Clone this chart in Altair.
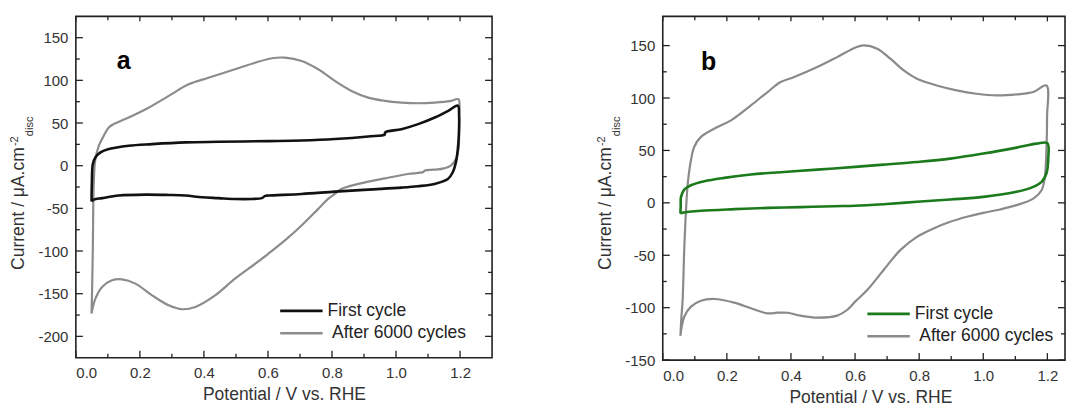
import altair as alt
import pandas as pd

# ---------------- data ----------------
# Panel a
A_FIRST_V = [0.049, 0.050, 0.053, 0.061, 0.077, 0.103, 0.165, 0.238, 0.342, 0.445, 0.601, 0.705, 0.809,
             0.913, 0.965, 0.966, 1.017, 1.069, 1.121, 1.163, 1.193, 1.197, 1.196, 1.193, 1.187, 1.177,
             1.162, 1.120, 1.068, 1.017, 0.913, 0.809, 0.705, 0.601, 0.591, 0.581, 0.549, 0.497, 0.445,
             0.394, 0.342, 0.290, 0.217, 0.134, 0.082, 0.056, 0.049]
A_FIRST_I = [-42, -20, 2, 9.7, 15.6, 19.5, 23.4, 25.3, 27.3, 28, 28.8, 29.5, 31.2,
             34.3, 36.6, 39, 42.8, 48.7, 56.5, 64.3, 70.5, 58, 35, 19.5, 3.9, -7.8,
             -15.6, -21.4, -24.1, -25.7, -28, -30.4, -33.1, -35, -35.4, -38, -39, -39, -38,
             -37, -35, -34.3, -33.9, -35, -38, -39.7, -42]

A_AFTER_V = [0.049, 0.051, 0.053, 0.056, 0.061, 0.072, 0.087, 0.103, 0.118, 0.165, 0.227, 0.290, 0.352,
             0.414, 0.497, 0.560, 0.617, 0.653, 0.705, 0.757, 0.809, 0.861, 0.913, 0.965, 1.017, 1.069,
             1.121, 1.172, 1.195, 1.197, 1.195, 1.187, 1.171, 1.150, 1.120, 1.090, 1.085, 1.037, 0.965,
             0.913, 0.861, 0.829, 0.809, 0.788, 0.757, 0.705, 0.653, 0.601, 0.560, 0.497, 0.435, 0.373,
             0.332, 0.290, 0.238, 0.186, 0.144, 0.113, 0.082, 0.061, 0.049]
A_AFTER_I = [-173.3, -140, -97, -19.5, 7.8, 23.4, 35, 44.8, 48.7, 56.5, 68, 81.8, 95.4,
             103, 113, 120.7, 126.2, 126.6, 122.7, 113, 99.3, 87.6, 79.8, 76, 74, 73.2,
             74, 76, 77.9, 58.4, 19.5, 7.8, 0, -3.1, -4.7, -5.5, -7.5, -9.7, -14.8,
             -18.7, -23.4, -27.3, -33.1, -38.9, -50.6, -70.1, -87.6, -103.2, -114.9, -132.4, -151.9, -165.5,
             -168.2, -163.6, -151.9, -138.2, -133.2, -134.3, -142.1, -155.8, -173.3]

# Panel b
B_FIRST_V = [0.055, 0.056, 0.057, 0.067, 0.088, 0.130, 0.192, 0.275, 0.378, 0.482, 0.600, 0.689, 0.793,
             0.897, 1.000, 1.104, 1.166, 1.200, 1.203, 1.197, 1.182, 1.156, 1.104, 1.000, 0.897, 0.793,
             0.689, 0.600, 0.534, 0.430, 0.327, 0.223, 0.119, 0.062, 0.055]
B_FIRST_I = [-10.2, -3, 5.7, 12.7, 16.8, 20.6, 23.8, 27, 29.5, 31.7, 34.3, 36.5, 39,
             42.2, 47, 52.7, 56.5, 57, 43.8, 28, 20, 15.2, 10.5, 5.7, 3.2, 1,
             -1.3, -2.8, -3.2, -4.1, -4.8, -6, -7.6, -9.5, -10.2]

B_AFTER_V = [0.055, 0.058, 0.062, 0.067, 0.072, 0.078, 0.088, 0.098, 0.119, 0.171, 0.213, 0.275, 0.327,
             0.368, 0.410, 0.482, 0.544, 0.600, 0.627, 0.669, 0.710, 0.752, 0.793, 0.855, 0.917, 0.979,
             1.042, 1.104, 1.156, 1.197, 1.199, 1.197, 1.192, 1.182, 1.156, 1.104, 1.052, 1.000, 0.949,
             0.897, 0.845, 0.793, 0.741, 0.689, 0.638, 0.601, 0.575, 0.544, 0.482, 0.430, 0.389,
             0.358, 0.327, 0.275, 0.223, 0.161, 0.119, 0.088, 0.067, 0.055]
B_AFTER_I = [-127, -110, -92.7, -45, -10, 18.4, 40.6, 53.3, 62.9, 72.4, 78.7, 93, 105.7,
             115.2, 120, 129.5, 139, 148, 150.2, 147, 137.5, 126.3, 118.4, 112, 107.3, 104.1,
             102.5, 103.5, 105.7, 112, 81.9, 50.2, 24.8, 12.1, 4.1, -2.2, -6.3, -9.5, -13.3,
             -18.1, -24.4, -32.4, -45.1, -64.1, -83.2, -94, -102.2, -107.6, -109.5, -107.6, -104.8,
             -104.8, -105.4, -100.6, -95.2, -91.7, -93.3, -99, -108.6, -127]

SERIES = ["First cycle", "After 6000 cycles"]

X_MAJOR = [0.0, 0.2, 0.4, 0.6, 0.8, 1.0, 1.2]
X_MINOR = [0.1, 0.3, 0.5, 0.7, 0.9, 1.1]
A_Y_MAJOR = [-200, -150, -100, -50, 0, 50, 100, 150]
A_Y_MINOR = [-175, -125, -75, -25, 25, 75, 125]
B_Y_MAJOR = [-150, -100, -50, 0, 50, 100, 150]
B_Y_MINOR = [-125, -75, -25, 25, 75, 125]

# ---------------- style ----------------
FONT = "Liberation Sans"
AXC = "#222222"
TXT = "#333333"
TITLE_FS = 17.5
LABEL_FS = 15


def curve(v, i):
    return pd.DataFrame({"V": v, "I": i, "k": list(range(len(v)))})


def one_row():
    return pd.DataFrame({"d": [0]})


def panel(first_v, first_i, after_v, after_i, first_color, after_color,
          xdom, ydom, w, h, y_major, y_minor, letter, letter_xy,
          leg_x, leg_y, ytitle_y, xtitle_x):
    xs = alt.Scale(domain=xdom, nice=False, zero=False)
    ys = alt.Scale(domain=ydom, nice=False, zero=False)

    after = alt.Chart(curve(after_v, after_i)).mark_line(
        color=after_color, strokeWidth=2.2, clip=True, strokeJoin="round", interpolate="catmull-rom"
    ).encode(
        x=alt.X("V:Q", scale=xs, axis=alt.Axis(
            values=X_MAJOR, format=".1f", ticks=False, domain=False, grid=False,
            labelFont=FONT, labelFontSize=LABEL_FS, labelColor=TXT, labelPadding=8,
            title="Potential / V vs. RHE", titleFont=FONT, titleFontSize=TITLE_FS,
            titleFontWeight="normal", titleColor=TXT, titlePadding=5, titleX=xtitle_x)),
        y=alt.Y("I:Q", scale=ys, axis=alt.Axis(
            values=y_major, ticks=False, domain=False, grid=False,
            labelExpr="'' + datum.value",
            labelFont=FONT, labelFontSize=LABEL_FS, labelColor=TXT, labelPadding=8,
            title="")),
        order="k:Q",
    )
    first = alt.Chart(curve(first_v, first_i)).mark_line(
        color=first_color, strokeWidth=2.6, clip=True, strokeJoin="round", interpolate="catmull-rom"
    ).encode(
        x=alt.X("V:Q", scale=xs),
        y=alt.Y("I:Q", scale=ys),
        order="k:Q",
    )

    layers = [after, first]

    # inward ticks on all four sides (same field names as the curves so axes merge)
    def yt(vals, length, right):
        x0 = w - length if right else 0
        return alt.Chart(pd.DataFrame({"I": vals})).mark_rule(color=AXC, strokeWidth=1.3).encode(
            y=alt.Y("I:Q", scale=ys), x=alt.value(x0), x2=alt.value(x0 + length))

    def xt(vals, length, top):
        y0 = 0 if top else h - length
        return alt.Chart(pd.DataFrame({"V": vals})).mark_rule(color=AXC, strokeWidth=1.3).encode(
            x=alt.X("V:Q", scale=xs), y=alt.value(y0), y2=alt.value(y0 + length))

    layers += [yt(y_major, 7, False), yt(y_minor, 4, False), yt(y_major, 7, True), yt(y_minor, 4, True),
               xt(X_MAJOR, 7, False), xt(X_MINOR, 4, False), xt(X_MAJOR, 5, True), xt(X_MINOR, 4, True)]

    def txt(s, x, y, fs, angle=0, align="left", baseline="middle", weight="normal", color=TXT):
        return alt.Chart(one_row()).mark_text(
            text=s, font=FONT, fontSize=fs, angle=angle, align=align, baseline=baseline,
            fontWeight=weight, color=color
        ).encode(x=alt.value(x), y=alt.value(y))

    # y-axis title with superscript / subscript
    layers += [
        txt("Current / \u03bcA.cm", -57, ytitle_y, TITLE_FS, angle=270),
        txt("-2", -60.5, ytitle_y - 124, 11, angle=270),
        txt("disc", -46, ytitle_y - 134, 11, angle=270),
    ]

    # panel letter
    layers.append(txt(letter, letter_xy[0], letter_xy[1], 25, align="center",
                      baseline="alphabetic", weight="bold", color="#000000"))

    # legend
    for k, (name, col, sw) in enumerate([(SERIES[0], first_color, 2.8), (SERIES[1], after_color, 2.4)]):
        yy = leg_y + k * 22.5
        layers.append(alt.Chart(one_row()).mark_rule(color=col, strokeWidth=sw).encode(
            x=alt.value(leg_x), x2=alt.value(leg_x + 42.5), y=alt.value(yy)))
        layers.append(txt(name, leg_x + 47.5 + 4.5 * k, yy, TITLE_FS, color="#222222"))

    return alt.layer(*layers).properties(width=w, height=h)


panel_a = panel(A_FIRST_V, A_FIRST_I, A_AFTER_V, A_AFTER_I, "#111111", "#8c8c8c",
                [0, 1.3], [-225, 175], 417, 342, A_Y_MAJOR, A_Y_MINOR, "a", (48, 53),
                204.7, 295, 254, 208.5)
panel_b = panel(B_FIRST_V, B_FIRST_I, B_AFTER_V, B_AFTER_I, "#1b7a1b", "#8a8a8a",
                [0, 1.255], [-150, 177.9], 403, 344.4, B_Y_MAJOR, B_Y_MINOR, "b", (46, 54),
                205, 298, 254, 208)

chart = alt.hconcat(panel_a, panel_b, spacing=101).properties(
    padding={"left": 8, "top": 14, "right": 0, "bottom": 0}
).configure(background="white").configure_view(stroke=AXC, strokeWidth=1.6)

chart.save("out.html", embed_options={"renderer": "svg", "actions": False})
